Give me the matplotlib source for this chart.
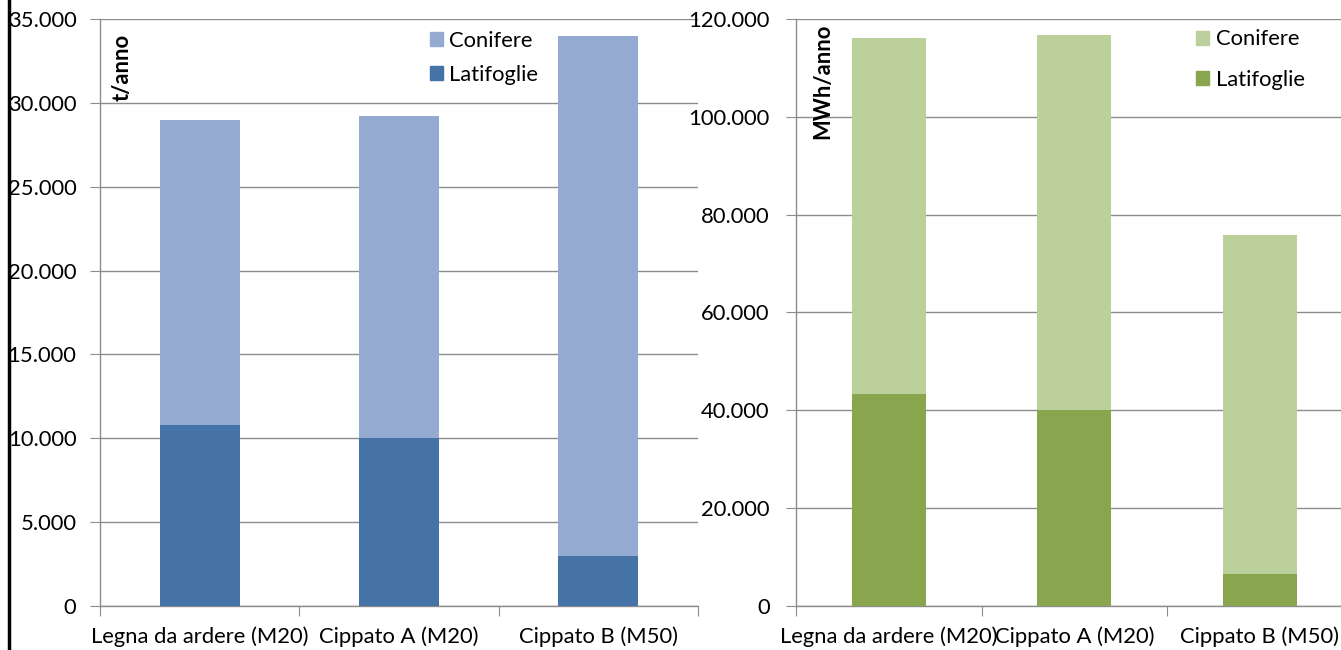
import matplotlib.pyplot as plt
from matplotlib.lines import Line2D
from matplotlib.patches import Patch
from matplotlib.ticker import FuncFormatter, MultipleLocator
import numpy as np

plt.rcParams['font.family'] = ['Lato', 'DejaVu Sans']

# --- dati: assortimenti e disponibilità annua ---
categories = ['Legna da ardere (M20)', 'Cippato A (M20)', 'Cippato B (M50)']
series_names = ['Conifere', 'Latifoglie']

# massa (t/anno)
massa_latifoglie = [10800, 10000, 3000]
massa_conifere = [18200, 19200, 31000]

# energia (MWh/anno)
energia_latifoglie = [43300, 40000, 6600]
energia_conifere = [72800, 76700, 69200]

BLUE_DARK = '#4572A7'
BLUE_LIGHT = '#95AAD1'
GREEN_DARK = '#89A54E'
GREEN_LIGHT = '#BBD09A'
GRID = '#8C8C8C'
FS = 15.8


def it_thousands(v, pos):
    return f"{int(round(v)):,}".replace(',', '.')


def draw_panel(ax, lat, con, c_dark, c_light, ymax, step, ylabel, ylabel_pos,
               leg_anchor, leg_spacing, label_pad):
    n = len(categories)
    x = np.arange(n)
    ax.bar(x, lat, width=0.4, color=c_dark, zorder=3)
    ax.bar(x, con, width=0.4, bottom=lat, color=c_light, zorder=3)

    ax.set_xlim(-0.5, n - 0.5)
    ax.set_ylim(0, ymax)
    ax.yaxis.set_major_locator(MultipleLocator(step))
    ax.yaxis.set_major_formatter(FuncFormatter(it_thousands))
    ax.grid(axis='y', color=GRID, linewidth=1.0, zorder=0)

    # tick di categoria ai confini, etichette al centro
    ax.set_xticks(np.arange(n + 1) - 0.5)
    ax.set_xticklabels([])
    ax.set_xticks(x, minor=True)
    ax.set_xticklabels(categories, minor=True, fontsize=FS)
    ax.tick_params(axis='x', which='minor', length=0, pad=15)
    ax.tick_params(axis='x', which='major', length=7, color=GRID, direction='out')
    ax.tick_params(axis='y', length=7, color=GRID, labelsize=FS, pad=label_pad)

    for side in ['top', 'right']:
        ax.spines[side].set_visible(False)
    for side in ['left', 'bottom']:
        ax.spines[side].set_color(GRID)
        ax.spines[side].set_linewidth(1.0)

    ax.text(ylabel_pos[0], ylabel_pos[1], ylabel, transform=ax.transAxes, rotation=90,
            ha='center', va='top', fontsize=FS, fontweight='bold')

    handles = [Patch(color=c_light), Patch(color=c_dark)]
    ax.legend(handles, series_names, loc='upper left', bbox_to_anchor=leg_anchor,
              frameon=False, fontsize=FS, handlelength=0.6, handleheight=0.6,
              handletextpad=0.3, labelspacing=leg_spacing)


fig = plt.figure(figsize=(13.41, 6.50), dpi=100)

ax1 = fig.add_axes([0.0746, 0.0677, 0.4459, 0.9031])
draw_panel(ax1, massa_latifoglie, massa_conifere, BLUE_DARK, BLUE_LIGHT,
           35000, 5000, 't/anno', (0.037, 0.975), (0.518, 1.014), 0.65, 10)

ax2 = fig.add_axes([0.5936, 0.0677, 0.415, 0.9031])
draw_panel(ax2, energia_latifoglie, energia_conifere, GREEN_DARK, GREEN_LIGHT,
           120000, 20000, 'MWh/anno', (0.048, 0.992), (0.683, 1.016), 0.95, 12)

# bordo nero sul lato sinistro
fig.add_artist(Line2D([0.007, 0.007], [0, 1], transform=fig.transFigure,
                      color='black', linewidth=2.5))

fig.savefig('out.png', dpi=100)
